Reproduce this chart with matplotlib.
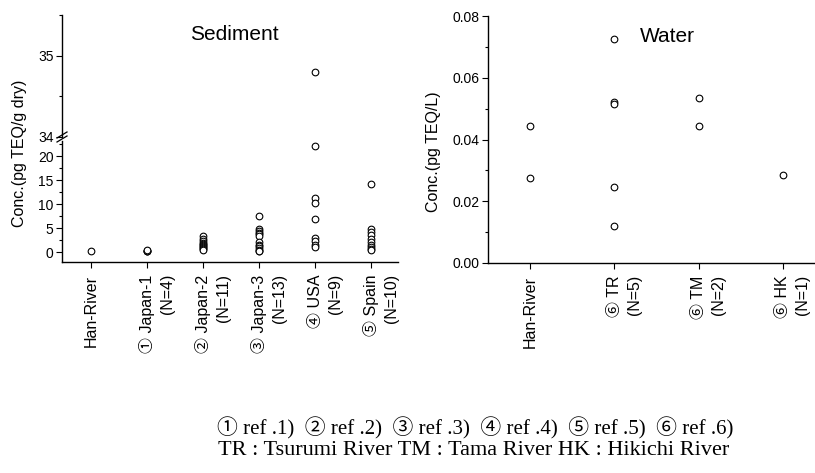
import numpy as np
import matplotlib.pyplot as plt
from matplotlib.ticker import MultipleLocator

SANS = ['Liberation Sans', 'Noto Sans CJK JP']
SERIF = ['Liberation Serif', 'Noto Sans CJK JP']

# sediment data (pg TEQ/g dry)
sed_names = ['Han-River', '① Japan-1', '② Japan-2', '③ Japan-3', '④ USA', '⑤ Spain']
sed_n = ['', '(N=4)', '(N=11)', '(N=13)', '(N=9)', '(N=10)']
sed_values = [
    [0.3],
    [0.2, 0.3, 0.3, 0.35],
    [3.3, 2.8, 2.3, 2.0, 1.8, 1.5, 1.2, 1.0, 0.8, 0.6, 0.5],
    [7.6, 4.8, 4.4, 4.0, 3.7, 3.3, 2.2, 1.6, 1.2, 0.8, 0.5, 0.3, 0.2],
    [34.8, 22.2, 11.4, 10.2, 7.0, 2.9, 2.3, 1.5, 1.1],
    [14.2, 4.9, 4.2, 3.5, 2.8, 2.2, 1.6, 1.0, 0.7, 0.5],
]
sed_ticks_low = [0, 5, 10, 15, 20]
sed_ticks_high = [34, 35]

# water data (pg TEQ/L)
wat_names = ['Han-River', '⑥ TR', '⑥ TM', '⑥ HK']
wat_n = ['', '(N=5)', '(N=2)', '(N=1)']
wat_values = [
    [0.0445, 0.0275],
    [0.0725, 0.052, 0.0515, 0.0245, 0.012],
    [0.0535, 0.0445],
    [0.0285],
]
wat_ticks = [0.0, 0.02, 0.04, 0.06, 0.08]

W, H = 815, 473
fig = plt.figure(figsize=(W / 100, H / 100), dpi=100)


def box(x0, y0, x1, y1):
    # pixel box (top-left origin) -> figure fraction
    return [x0 / W, 1 - y1 / H, (x1 - x0) / W, (y1 - y0) / H]


ax_top = fig.add_axes(box(62, 15, 398, 137))
ax_bot = fig.add_axes(box(62, 141, 398, 262))
ax_w = fig.add_axes(box(488, 16, 815, 263))

mk = dict(marker='o', ls='none', mfc='white', mec='black', ms=4.8, mew=0.8)

for i, vals in enumerate(sed_values):
    x = np.full(len(vals), i + 1)
    ax_bot.plot(x, vals, **mk)
    ax_top.plot(x, vals, **mk)
for i, vals in enumerate(wat_values):
    ax_w.plot(np.full(len(vals), i + 1), vals, clip_on=False, **mk)

for a in (ax_top, ax_bot, ax_w):
    for s in ('top', 'right'):
        a.spines[s].set_visible(False)
    a.spines['left'].set_linewidth(1.0)
    a.spines['bottom'].set_linewidth(1.0)
    a.tick_params(direction='out', length=4, width=0.8, labelsize=10, pad=2)
    a.tick_params(which='minor', direction='out', length=2, width=0.8)

ax_top.spines['bottom'].set_visible(False)
ax_top.set_xticks([])
ax_top.set_yticks(sed_ticks_high)
ax_top.set_yticklabels(['%d' % v for v in sed_ticks_high], family=SANS)
ax_top.yaxis.set_minor_locator(MultipleLocator(0.5))
ax_bot.set_yticks(sed_ticks_low)
ax_bot.set_yticklabels(['%d' % v for v in sed_ticks_low], family=SANS)
ax_bot.yaxis.set_minor_locator(MultipleLocator(2.5))
ax_w.set_yticks(wat_ticks)
ax_w.set_yticklabels(['%.2f' % v for v in wat_ticks], family=SANS)
ax_w.yaxis.set_minor_locator(MultipleLocator(0.01))

ax_top.set_ylim(34, 35.5)
ax_bot.set_ylim(-2.05, 23.2)
ax_w.set_ylim(0, 0.08)
for a in (ax_top, ax_bot):
    a.set_xlim(0.48, 6.48)
ax_w.set_xlim(0.5, 4.38)


def xlabels(a, names, ns):
    pos = np.arange(1, len(names) + 1)
    a.set_xticks(pos)
    a.set_xticklabels(names, rotation=90, va='top', ha='center', family=SANS, fontsize=11.5)
    a.tick_params(axis='x', pad=5)
    for p, n in zip(pos, ns):
        if n:
            a.annotate(n, xy=(p, 0), xycoords=a.get_xaxis_transform(),
                       xytext=(20, -12), textcoords='offset pixels',
                       rotation=90, va='top', ha='center', family=SANS, fontsize=11.5)


xlabels(ax_bot, sed_names, sed_n)
xlabels(ax_w, wat_names, wat_n)

# axis break marks
for dy in (0, 4):
    fig.add_artist(plt.Line2D([57 / W, 67 / W], [1 - (142 - dy) / H, 1 - (136 - dy) / H],
                              color='black', lw=0.9))

fig.text(20 / W, 1 - 153 / H, 'Conc.(pg TEQ/g dry)', rotation=90, ha='center', va='center',
         family=SANS, fontsize=11.5)
fig.text(433 / W, 1 - 152 / H, 'Conc.(pg TEQ/L)', rotation=90, ha='center', va='center',
         family=SANS, fontsize=11.5)
fig.text(234 / W, 1 - 35 / H, 'Sediment', ha='center', va='center', family=SANS, fontsize=15)
fig.text(667 / W, 1 - 37 / H, 'Water', ha='center', va='center', family=SANS, fontsize=15)

fig.text(475 / W, 1 - 428 / H,
         '① ref .1)  ② ref .2)  ③ ref .3)  ④ ref .4)  ⑤ ref .5)  ⑥ ref .6)',
         ha='center', va='center', family=SERIF, fontsize=15)
fig.text(474 / W, 1 - 450 / H, 'TR : Tsurumi River TM : Tama River HK : Hikichi River',
         ha='center', va='center', family=SERIF, fontsize=16)

fig.savefig('out.png', dpi=100)
